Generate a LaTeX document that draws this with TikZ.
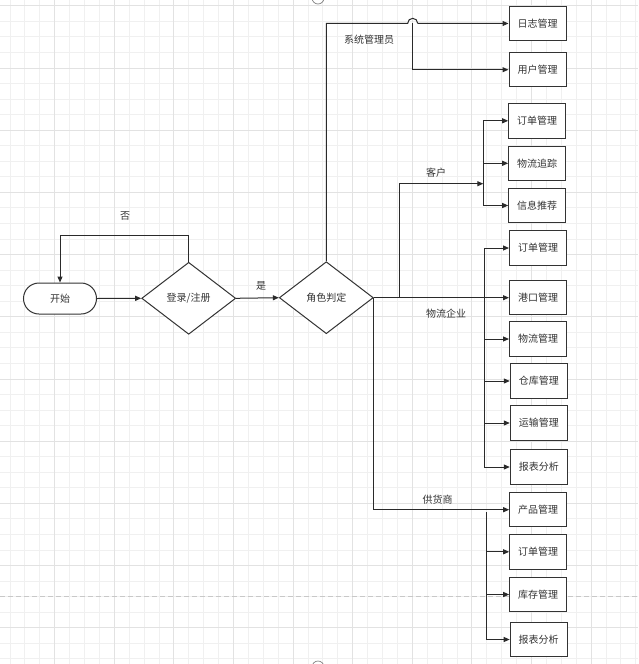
\documentclass[tikz,border=0pt]{standalone}
\usepackage{fontspec}
\newfontfamily\cjk{Noto Sans CJK SC}
\usetikzlibrary{shapes.geometric,arrows.meta,calc}
\definecolor{gridminor}{HTML}{F0F0F0}
\definecolor{gridmajor}{HTML}{E2E2E2}
\definecolor{ink}{HTML}{333333}
\definecolor{edgeink}{HTML}{2A2A2A}
\tikzset{
  every node/.style={font=\cjk\fontsize{10}{12}\selectfont, text=ink},
  box/.style={draw=ink, line width=1pt, fill=white, minimum width=57pt, minimum height=34.5pt, inner sep=0pt},
  term/.style={draw=ink, line width=1pt, fill=white, rounded corners=15.5pt, minimum width=73pt, minimum height=31pt, inner sep=0pt},
  decision/.style={draw=ink, line width=1pt, fill=white, diamond, minimum width=94pt, minimum height=72pt, inner sep=0pt},
  conn/.style={draw=edgeink, line width=1pt},
  arr/.style={conn, -{Triangle[length=6pt,width=5pt]}},
  lbl/.style={inner sep=0pt}
}
\begin{document}
\begin{tikzpicture}[x=1pt,y=-1pt]
\useasboundingbox (0,0) rectangle (638,664);
\fill[white] (0,0) rectangle (638,664);
% grid
\foreach \i in {0,...,42} \draw[gridminor, line width=1pt] ({10+14.9*\i},0) -- ({10+14.9*\i},664);
\foreach \j in {0,...,42} \draw[gridminor, line width=1pt] (0,{5.8+15.55*\j}) -- (638,{5.8+15.55*\j});
\foreach \k in {0,...,9} \draw[gridmajor, line width=1pt] ({54.7+59.6*\k},0) -- ({54.7+59.6*\k},664);
\foreach \k in {0,...,10} \draw[gridmajor, line width=1pt] (0,{5.8+62.2*\k}) -- (638,{5.8+62.2*\k});
% page break marks
\draw[draw={rgb,255:red,200;green,200;blue,200}, line width=1pt, dash pattern=on 5pt off 3pt] (0,596.7) -- (638,596.7);
\draw[draw={rgb,255:red,130;green,130;blue,130}, line width=0.7pt] (318,-2) circle[radius=6pt];
\draw[draw={rgb,255:red,130;green,130;blue,130}, line width=0.7pt] (318,667) circle[radius=6pt];

% nodes
\node[term] (start) at (60,298.5) {开始};
\node[decision] (login) at (188.7,298.3) {登录/注册};
\node[decision] (role) at (326.3,297.7) {角色判定};

\node[box] (a1) at (537.5,23.5) {日志管理};
\node[box] (a2) at (537.5,69.7) {用户管理};

\node[box] (c1) at (537.2,120.8) {订单管理};
\node[box] (c2) at (537.2,163.3) {物流追踪};
\node[box] (c3) at (537.2,205.5) {信息推荐};

\node[box] (l1) at (538,248) {订单管理};
\node[box] (l2) at (538,297.7) {港口管理};
\node[box] (l3) at (538,339) {物流管理};
\node[box] (l4) at (538.8,381) {仓库管理};
\node[box] (l5) at (538.8,423) {运输管理};
\node[box] (l6) at (538.8,467) {报表分析};

\node[box] (s1) at (538.2,509.7) {产品管理};
\node[box] (s2) at (538.2,551.8) {订单管理};
\node[box] (s3) at (538.2,594.5) {库存管理};
\node[box] (s4) at (538.7,639.5) {报表分析};

% labels
\node[lbl] (tno) at (125,216) {否};
\node[lbl] (tyes) at (261,286) {是};
\node[lbl] (tadmin) at (369,40) {系统管理员};
\node[lbl] (tcust) at (436,172.3) {客户};
\node[lbl] (tlog) at (446,313.3) {物流企业};
\node[lbl] (tsup) at (437.7,499.3) {供货商};

% coordinates
\coordinate (loopy) at (0,235);
\coordinate (topy) at (0,23.3);
\coordinate (hop) at (412.7,23.3);
\coordinate (hopl) at (407.7,23.3);
\coordinate (hopr) at (417.7,23.3);
\coordinate (custx) at (399.3,297.7);
\coordinate (cbus) at (483.3,183.7);
\coordinate (lbus) at (484,297.7);
\coordinate (sbus) at (486.7,512.3);

% connectors
\draw[arr] (start.east) -- (login.west);
\draw[arr] (login.north) -- (login.north |- loopy) -| (start.north);
\draw[arr] (login.east) -- (role.west);

% admin
\draw[conn] (role.north) |- (hopl) arc[start angle=180,end angle=0,radius=5pt];
\draw[arr] (hopr) -- (a1.west);
\draw[arr] (hop) |- (a2.west);

% customer
\draw[arr] (custx) |- (cbus);
\draw[arr] (cbus) |- (c1.west);
\draw[arr] (cbus) |- (c2.west);
\draw[arr] (cbus) |- (c3.west);

% logistics
\draw[arr] (role.east) -- (l2.west);
\draw[arr] (lbus) |- (l1.west);
\draw[arr] (lbus) |- (l3.west);
\draw[arr] (lbus) |- (l4.west);
\draw[arr] (lbus) |- (l5.west);
\draw[arr] (lbus) |- (l6.west);

% supplier
\draw[arr] (role.east) |- (s1.west);
\draw[arr] (sbus) |- (s2.west);
\draw[arr] (sbus) |- (s3.west);
\draw[arr] (sbus) |- (s4.west);
\end{tikzpicture}
\end{document}
